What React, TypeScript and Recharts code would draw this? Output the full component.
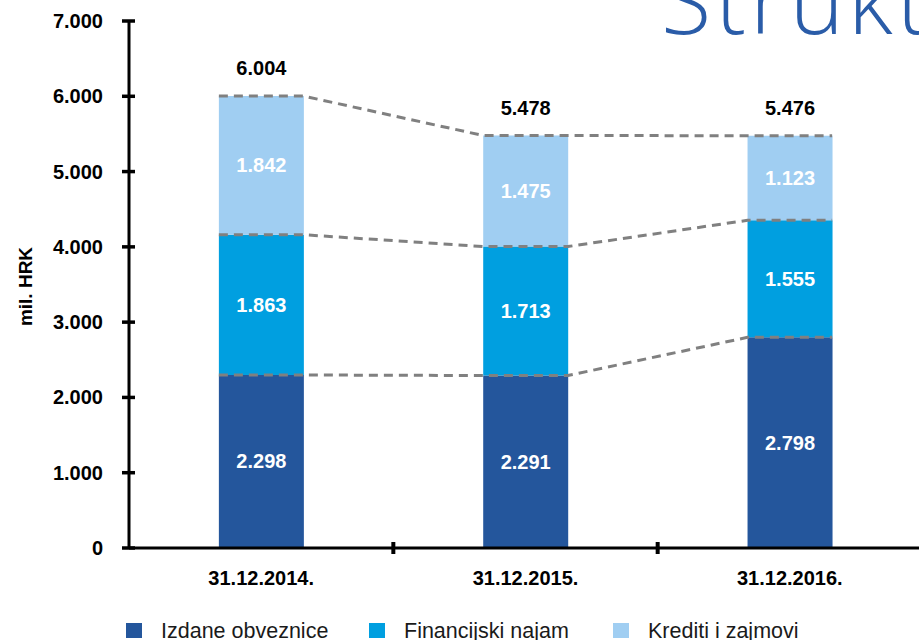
import React from 'react';
import { ComposedChart, Bar, Line, XAxis, YAxis, LabelList, ReferenceLine } from 'recharts';

const categories = ['31.12.2014.', '31.12.2015.', '31.12.2016.'];
const izdaneObveznice = [2298, 2291, 2798];
const financijskiNajam = [1863, 1713, 1555];
const kreditiIZajmovi = [1842, 1475, 1123];
const totals = [6004, 5478, 5476];
const yTicks = [0, 1000, 2000, 3000, 4000, 5000, 6000, 7000];
const seriesNames = ['Izdane obveznice', 'Financijski najam', 'Krediti i zajmovi'];
const seriesColors = ['#24569C', '#009FE0', '#A0CEF2'];
const titleText = 'Struktura';
const yAxisTitle = 'mil. HRK';

const FONT = '"Liberation Sans", Arial, Helvetica, sans-serif';
const BAR_GAP = 0.34;
const HALF_BAR = (1 - 2 * BAR_GAP) / 2;
const TICK_HALF = 80;

const fmt = (n: number) => {
  const th = Math.floor(n / 1000);
  const rest = n % 1000;
  if (th === 0) return String(rest);
  return `${th}.${String(rest).padStart(3, '0')}`;
};

const data = categories.map((cat, i) => ({
  cat,
  a: izdaneObveznice[i],
  b: financijskiNajam[i],
  c: kreditiIZajmovi[i],
}));

const level1 = izdaneObveznice;
const level2 = izdaneObveznice.map((v, i) => v + financijskiNajam[i]);
const level3 = level2.map((v, i) => v + kreditiIZajmovi[i]);

const levelPoints = (lv: number[]) =>
  lv.flatMap((v, i) => [
    { x: i + 0.5 - HALF_BAR, y: v },
    { x: i + 0.5 + HALF_BAR, y: v },
  ]);

const YTick = (props: any) => {
  const { x, y, payload } = props;
  return (
    <g>
      <line x1={x - 7} x2={x + 6} y1={y} y2={y} stroke="#000" strokeWidth={3.5} />
      <text x={x - 26} y={y + 7} textAnchor="end" fontFamily={FONT} fontWeight="bold" fontSize={20} fill="#000">
        {fmt(payload.value)}
      </text>
    </g>
  );
};

const XTick = (props: any) => {
  const { x, y, payload } = props;
  return (
    <text x={x} y={y + 37} textAnchor="middle" fontFamily={FONT} fontWeight="bold" fontSize={20} fill="#000">
      {payload.value}
    </text>
  );
};

const segLabel = (p: any) => {
  const { x, y, width, height, value } = p;
  return (
    <text x={x + width / 2} y={y + height / 2 + 7} textAnchor="middle" fontFamily={FONT} fontWeight="bold" fontSize={20} fill="#fff">
      {fmt(value)}
    </text>
  );
};

const totalLabel = (p: any) => {
  const { x, y, width, index } = p;
  return (
    <text x={x + width / 2} y={y - 21} textAnchor="middle" fontFamily={FONT} fontWeight="bold" fontSize={20} fill="#000">
      {fmt(totals[index])}
    </text>
  );
};

const yLabel = (p: any) => {
  const vb = p.viewBox || { x: 0, y: 21, width: 129, height: 527 };
  const cx = vb.x + 32;
  const cy = vb.y + vb.height / 2 + 2;
  return (
    <text x={cx} y={cy} transform={`rotate(-90 ${cx} ${cy})`} textAnchor="middle" fontFamily={FONT} fontWeight="bold" fontSize={19} fill="#000">
      {yAxisTitle}
    </text>
  );
};

const legendX = [126, 369, 613];

export default function App() {
  const keys = ['a', 'b', 'c'];
  return (
    <div style={{ position: 'fixed', left: 0, top: 0, width: 919, height: 640, overflow: 'hidden', background: '#fff' }}>
      <ComposedChart
        width={940}
        height={640}
        data={data}
        margin={{ top: 21, right: 18, bottom: 0, left: 0 }}
        barCategoryGap={`${BAR_GAP * 100}%`}
      >
        <XAxis
          dataKey="cat"
          tickLine={false}
          axisLine={{ stroke: '#000', strokeWidth: 3 }}
          tick={<XTick />}
          tickSize={0}
          tickMargin={0}
          height={92}
          interval={0}
        />
        <XAxis xAxisId="n" type="number" dataKey="x" domain={[0, categories.length]} allowDataOverflow hide />
        <YAxis
          domain={[0, 7000]}
          ticks={yTicks}
          interval={0}
          width={129}
          tickLine={false}
          tickSize={0}
          tickMargin={0}
          axisLine={{ stroke: '#000', strokeWidth: 3 }}
          tick={<YTick />}
          label={yLabel}
        />
        {keys.map((k, si) => (
          <Bar key={k} dataKey={k} stackId="s" fill={seriesColors[si]} isAnimationActive={false} name={seriesNames[si]}>
            <LabelList dataKey={k} content={segLabel} />
            {si === keys.length - 1 && <LabelList dataKey={k} content={totalLabel} />}
          </Bar>
        ))}
        {[level1, level2, level3].map((lv, li) => (
          <Line
            key={li}
            xAxisId="n"
            data={levelPoints(lv)}
            dataKey="y"
            type="linear"
            stroke="#808080"
            strokeWidth={3}
            strokeDasharray="9 6"
            dot={false}
            activeDot={false}
            isAnimationActive={false}
          />
        ))}
        {categories.slice(1).map((_, i) => (
          <ReferenceLine
            key={i}
            xAxisId="n"
            segment={[{ x: i + 1, y: -TICK_HALF }, { x: i + 1, y: TICK_HALF }]}
            stroke="#000"
            strokeWidth={4}
            ifOverflow="visible"
          />
        ))}
      </ComposedChart>
      <svg width={919} height={640} style={{ position: 'absolute', left: 0, top: 0, pointerEvents: 'none' }}>
        <text x={661} y={34} fontFamily='"Open Sans", sans-serif' fontWeight={300} fontSize={92} letterSpacing={4} fill="#2A5CA8">
          {titleText}
        </text>
        {seriesNames.map((n, i) => (
          <g key={n}>
            <rect x={legendX[i]} y={623} width={16} height={15} fill={seriesColors[i]} />
            <text x={legendX[i] + 35} y={638} fontFamily={FONT} fontSize={21.5} fill="#1a1a1a">
              {n}
            </text>
          </g>
        ))}
      </svg>
    </div>
  );
}
